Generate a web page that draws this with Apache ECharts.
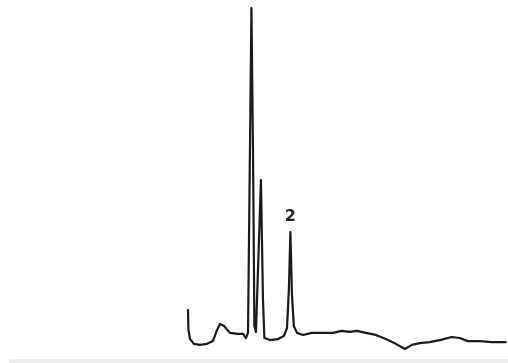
<!DOCTYPE html>
<html>
<head>
<meta charset="utf-8">
<script src="https://cdn.jsdelivr.net/npm/echarts@6/dist/echarts.min.js"></script>
<style>
  html, body { margin: 0; padding: 0; background: #fff; }
  #chart { width: 508px; height: 363px; }
</style>
</head>
<body>
<div id="chart"></div>
<script>
  // retention time (min) and detector response
  const times = [
    0.00, 0.03, 0.13, 0.38, 0.77, 1.22, 1.60, 1.86, 2.05, 2.31,
    2.69, 3.21, 3.53, 3.72, 3.85, 3.97, 4.07, 4.17, 4.26, 4.36,
    4.68, 4.81, 4.90, 5.26, 5.77, 6.15, 6.35, 6.47, 6.57, 6.67,
    6.79, 6.99, 7.37, 7.95, 8.59, 9.29, 9.87, 10.38, 10.83, 11.41,
    12.05, 12.69, 13.33, 13.91, 14.36, 14.87, 15.51, 16.15, 16.92, 17.44,
    17.95, 18.72, 19.49, 20.38
  ];
  const signal = [
    11.7, 5.8, 3.2, 1.8, 1.5, 1.8, 2.6, 5.8, 7.6, 7.0,
    5.0, 4.7, 4.7, 3.5, 5.0, 5.3, 100, 58.5, 7.0, 5.3,
    49.7, 14.6, 3.5, 2.9, 3.2, 4.1, 6.4, 17.5, 34.5, 16.1,
    7.0, 5.0, 4.4, 5.0, 5.0, 5.0, 5.6, 5.3, 5.6, 5.0,
    4.4, 3.2, 1.8, 0.3, 1.5, 2.0, 2.3, 2.9, 3.8, 3.5,
    2.6, 2.6, 2.3, 2.3
  ];
  // labelled peaks
  const peakNames = ['2'];
  const peakTimes = [6.57];

  const data = times.map((t, i) => [t, signal[i]]);
  const marks = peakNames.map(function (name, k) {
    const i = times.indexOf(peakTimes[k]);
    return { name: name, coord: [times[i], signal[i]] };
  });

  const chart = echarts.init(document.getElementById('chart'));
  chart.setOption({
    animation: false,
    backgroundColor: '#fff',
    grid: { left: 188, right: 2, top: 8, bottom: 13 },
    xAxis: { type: 'value', min: 0, max: 20.4, show: false },
    yAxis: { type: 'value', min: 0, max: 100, show: false },
    graphic: [{
      type: 'rect',
      left: 9, top: 359,
      shape: { width: 499, height: 4 },
      style: { fill: '#ececec' }
    }],
    series: [{
      type: 'line',
      data: data,
      showSymbol: false,
      symbol: 'none',
      clip: false,
      lineStyle: { color: '#1a1a1a', width: 2.2, join: 'round', cap: 'round' },
      markPoint: {
        symbol: 'circle',
        symbolSize: 1,
        itemStyle: { color: 'rgba(0,0,0,0)' },
        label: {
          show: true,
          position: 'top',
          distance: 7,
          formatter: '{b}',
          color: '#222',
          fontSize: 16,
          fontWeight: 'bold',
          fontFamily: 'DejaVu Sans'
        },
        data: marks
      }
    }]
  });
</script>
</body>
</html>
